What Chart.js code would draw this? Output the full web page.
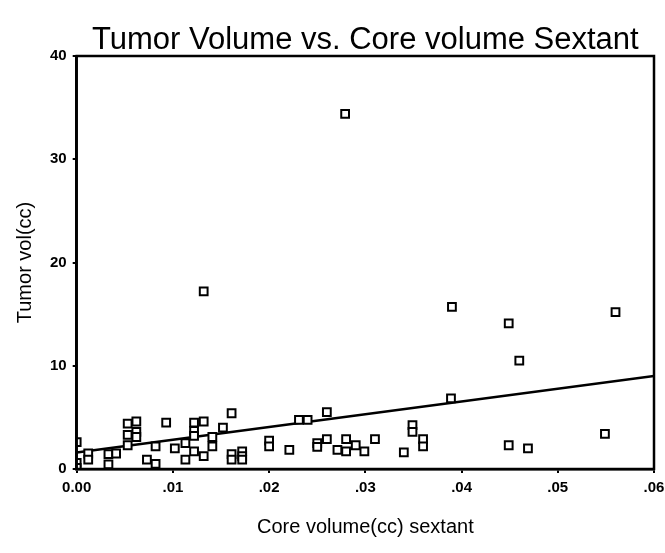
<!DOCTYPE html>
<html>
<head>
<meta charset="utf-8">
<script src="https://cdn.jsdelivr.net/npm/chart.js@4/dist/chart.umd.min.js"></script>
<style>
  html, body { margin: 0; padding: 0; background: #fff; }
  #wrap { width: 665px; height: 553px; }
</style>
</head>
<body>
<div id="wrap"><canvas id="myChart" width="665" height="553"></canvas></div>
<script>
// core volume (cc) per sextant
const coreVol = [
    0, 0, 0, 0.0012, 0.0012, 0.0033, 0.0033, 0.0041, 0.0053, 0.0053,
    0.0053, 0.0062, 0.0062, 0.0062, 0.0073, 0.0082, 0.0082, 0.0093, 0.0102, 0.0113,
    0.0113, 0.0122, 0.0122, 0.0122, 0.0122, 0.0132, 0.0132, 0.0132, 0.0141, 0.0141,
    0.0152, 0.0161, 0.0161, 0.0161, 0.0172, 0.0172, 0.0172, 0.0200, 0.0200, 0.0221,
    0.0231, 0.0240, 0.0250, 0.0250, 0.0260, 0.0260, 0.0271, 0.0280, 0.0280, 0.0279,
    0.0290, 0.0299, 0.0310, 0.0340, 0.0349, 0.0349, 0.0360, 0.0360, 0.0389, 0.0390,
    0.0449, 0.0449, 0.0460, 0.0469, 0.0549, 0.0560
];
// tumor volume (cc)
const tumorVol = [
    2.6, 0.6, 0.1, 1.5, 0.9, 1.45, 0.45, 1.5, 4.4, 3.3,
    2.3, 4.6, 3.6, 3.1, 0.9, 2.2, 0.5, 4.5, 2.0, 2.5,
    0.9, 4.5, 3.7, 3.2, 1.7, 4.6, 1.25, 17.2, 3.1, 2.2,
    4.0, 5.4, 1.45, 0.9, 1.7, 1.25, 0.9, 2.75, 2.2, 1.85,
    4.75, 4.75, 2.5, 2.15, 5.5, 2.9, 1.85, 2.9, 1.7, 34.4,
    2.3, 1.7, 2.9, 1.6, 4.25, 3.6, 2.9, 2.2, 6.85, 15.7,
    14.1, 2.3, 10.5, 2.0, 3.4, 15.2
];
// fit line end points
const fitX = [0, 0.06];
const fitY = [1.6, 9.0];

const xTickLabels = ['0.00', '.01', '.02', '.03', '.04', '.05', '.06'];
const yTicks = [0, 10, 20, 30, 40];

const points = coreVol.map((x, i) => ({ x: x, y: tumorVol[i] }));
const fitLine = fitX.map((x, i) => ({ x: x, y: fitY[i] }));

// box around plot area
const frame = {
    id: 'frame',
    afterDatasetsDraw(chart) {
        const a = chart.chartArea;
        const c = chart.ctx;
        c.save();
        c.strokeStyle = '#000';
        c.lineWidth = 2.5;
        c.strokeRect(a.left, a.top, a.right - a.left, a.bottom - a.top);
        c.restore();
    }
};

const fontFamily = 'Liberation Sans, Arial, sans-serif';
const tickFont = { family: fontFamily, size: 15, weight: 'bold' };

var ctx = document.getElementById('myChart').getContext('2d');
var myChart = new Chart(ctx, { //eslint-disable-line
    type: 'scatter',
    data: {
        datasets: [{
            label: 'Tumor vol',
            data: points,
            pointStyle: 'rect',
            pointRadius: 5.5,
            pointBackgroundColor: '#fff',
            pointBorderColor: '#000',
            pointBorderWidth: 2,
            showLine: false,
            order: 1
        },
        {
            label: 'Fit',
            type: 'line',
            data: fitLine,
            borderColor: '#000',
            borderWidth: 2.5,
            pointRadius: 0,
            fill: false,
            order: 2
        }]
    },
    options: {
        responsive: false,
        animation: false,
        layout: { padding: { left: 13, right: 0, top: 0, bottom: 14 } },
        plugins: {
            legend: { display: false },
            tooltip: { enabled: false },
            title: {
                display: true,
                fullSize: false,
                text: 'Tumor Volume vs. Core volume Sextant',
                color: '#000',
                font: { family: fontFamily, size: 31, weight: 'normal', lineHeight: 1.0 },
                padding: { top: 25, bottom: 0 }
            }
        },
        scales: {
            x: {
                type: 'linear',
                min: 0,
                max: 0.06,
                afterFit: (axis) => { axis.paddingRight = 11; },
                grid: { drawOnChartArea: false, drawTicks: true, tickLength: 4, color: '#000', lineWidth: 2 },
                border: { display: true, color: '#000', width: 2.5 },
                ticks: {
                    stepSize: 0.01,
                    color: '#000',
                    font: tickFont,
                    padding: 6,
                    maxRotation: 0,
                    callback: (v) => xTickLabels[Math.round(v * 100)]
                },
                title: {
                    display: true,
                    text: 'Core volume(cc) sextant',
                    color: '#000',
                    font: { family: fontFamily, size: 20 },
                    padding: { top: 12, bottom: 0 }
                }
            },
            y: {
                min: 0,
                max: 40,
                afterBuildTicks: (axis) => { axis.ticks = yTicks.map(v => ({ value: v })); },
                grid: { drawOnChartArea: false, drawTicks: true, tickLength: 4, color: '#000', lineWidth: 2 },
                border: { display: true, color: '#000', width: 2.5 },
                ticks: {
                    color: '#000',
                    font: tickFont,
                    padding: 6
                },
                title: {
                    display: true,
                    text: 'Tumor vol(cc)',
                    color: '#000',
                    font: { family: fontFamily, size: 20 },
                    padding: { top: 0, bottom: 7 }
                }
            }
        }
    },
    plugins: [frame]
});
</script>
</body>
</html>
